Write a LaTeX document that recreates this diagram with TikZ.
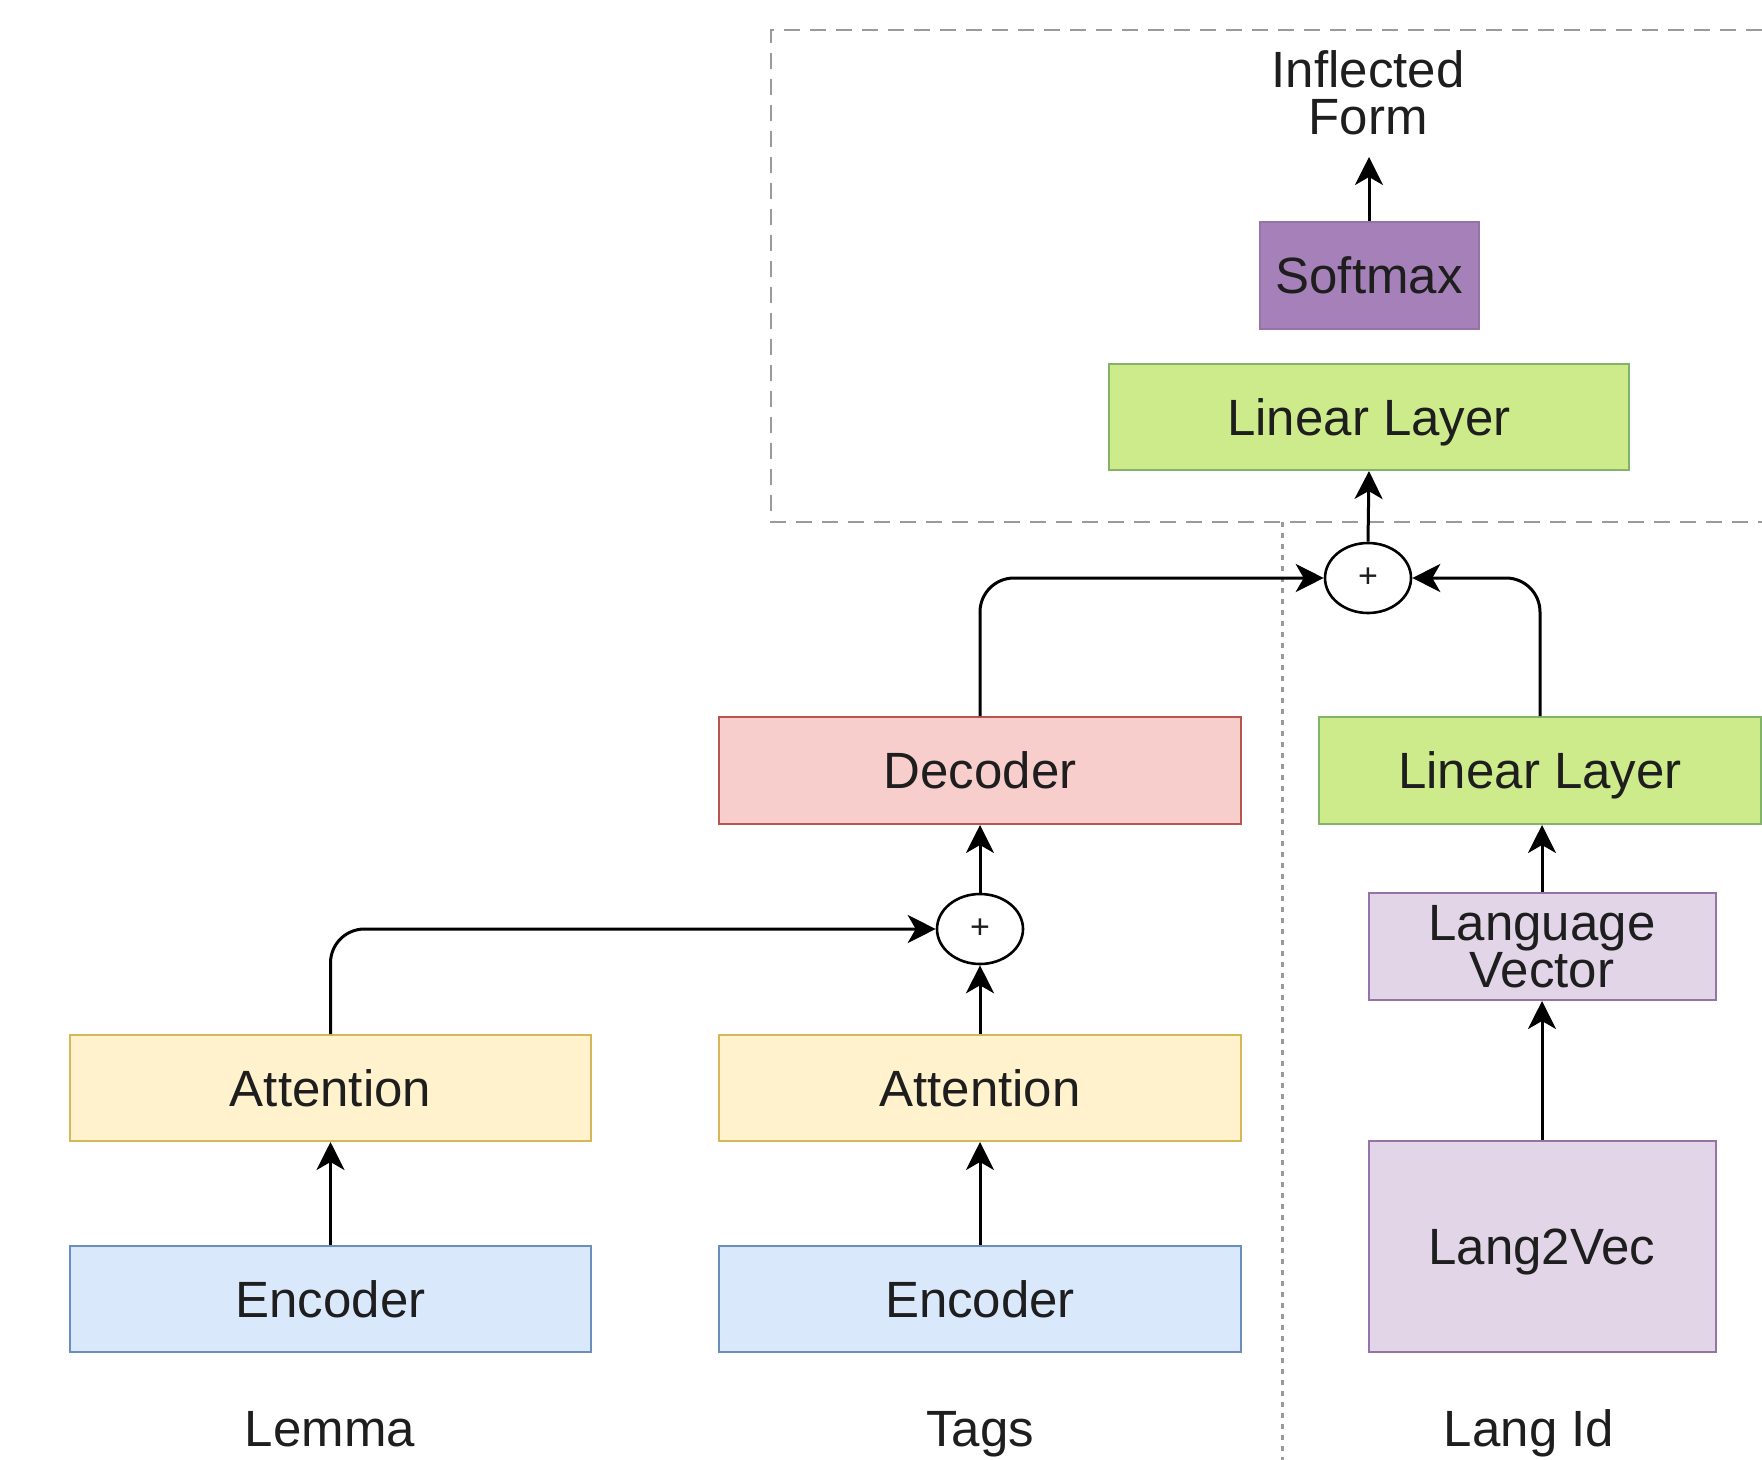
\documentclass[tikz,border=0pt]{standalone}
\usepackage{fontspec}
\setmainfont{Liberation Sans}
\usetikzlibrary{arrows.meta,shapes.geometric}

\definecolor{txt}{HTML}{1E1E1E}
\definecolor{softfill}{HTML}{A680B8}
\definecolor{softdraw}{HTML}{9673A6}
\definecolor{linfill}{HTML}{CDEB8B}
\definecolor{lindraw}{HTML}{82B366}
\definecolor{decfill}{HTML}{F8CECC}
\definecolor{decdraw}{HTML}{B85450}
\definecolor{langfill}{HTML}{E1D5E7}
\definecolor{langdraw}{HTML}{9673A6}
\definecolor{attfill}{HTML}{FFF2CC}
\definecolor{attdraw}{HTML}{D6B656}
\definecolor{encfill}{HTML}{DAE8FC}
\definecolor{encdraw}{HTML}{6C8EBF}
\definecolor{frame}{HTML}{9A9A9A}

\begin{document}
\begin{tikzpicture}[x=0.5pt,y=-0.5pt,
  lbl/.style={text=txt, font=\fontsize{25.5pt}{23.5pt}\selectfont, align=center},
  blk/.style={lbl, draw, line width=1pt, inner sep=0pt, minimum height=53.5pt},
  oneline/.style={text height=18.4pt, text depth=0pt},
  softbox/.style={blk, oneline, fill=softfill, draw=softdraw},
  linbox/.style={blk, oneline, fill=linfill, draw=lindraw},
  decbox/.style={blk, oneline, fill=decfill, draw=decdraw},
  langbox/.style={blk, fill=langfill, draw=langdraw},
  attbox/.style={blk, oneline, fill=attfill, draw=attdraw},
  encbox/.style={blk, oneline, fill=encfill, draw=encdraw},
  inlabel/.style={lbl, anchor=base},
  sumnode/.style={ellipse, draw, line width=1.3pt, fill=white, inner sep=0pt,
    minimum width=43pt, minimum height=35pt, text=txt, font=\fontsize{17pt}{17pt}\selectfont},
  conn/.style={line width=1.5pt, -{Stealth[length=14pt,width=14pt,inset=4pt]}},
  elbow/.style={conn, rounded corners=17pt}
]
\useasboundingbox (0,0) rectangle (1762,1460);

% region outlines
\draw[frame, line width=1pt, dash pattern=on 8pt off 5pt]
  (1762,30) -- (771,30) -- (771,522) -- (1762,522);
\draw[frame, line width=1.5pt, dash pattern=on 2.5pt off 3pt] (1282,522) -- (1282,1460);

% output stack
\node[lbl, anchor=south, inner xsep=0pt, inner ysep=11pt] (out) at (1368,157) {Inflected\\Form};
\node[softbox, minimum width=109.5pt] (soft) at (1369,275.5) {Softmax};
\node[linbox, minimum width=260pt, minimum height=53pt] (lin1) at (1369,417) {Linear Layer};
\node[sumnode] (plus1) at (1368,578) {+};

% decoder column
\node[decbox, minimum width=261pt] (dec) at (980,770.5) {Decoder};
\node[sumnode] (plus2) at (980,929) {+};
\node[attbox, minimum width=260.5pt, minimum height=53pt] (att1) at (330.5,1088) {Attention};
\node[attbox, minimum width=261pt, minimum height=53pt] (att2) at (980,1088) {Attention};
\node[encbox, minimum width=260.5pt, minimum height=53pt] (enc1) at (330.5,1299) {Encoder};
\node[encbox, minimum width=261pt, minimum height=53pt] (enc2) at (980,1299) {Encoder};

% language column
\node[linbox, minimum width=221pt] (lin2) at (1540,770.5) {Linear Layer};
\node[langbox, minimum width=173.5pt] (lvec) at (1542,946.5) {Language\\Vector};
\node[langbox, oneline, minimum width=173.5pt, minimum height=105.5pt] (l2v) at (1542,1246.5) {Lang2Vec};

% input labels
\node[inlabel] (lemma) at (330,1446) {Lemma};
\node[inlabel] (tags) at (980,1446) {Tags};
\node[inlabel] (langid) at (1529,1446) {Lang Id};

% connectors
\draw[conn] (enc1.north) -- (att1.south);
\draw[conn] (enc2.north) -- (att2.south);
\draw[conn] (att2.north) -- (plus2.south);
\draw[elbow] (att1.north) |- (plus2.west);
\draw[conn] (plus2.north) -- (dec.south);
\draw[elbow] (dec.north) |- (plus1.west);
\draw[conn] (l2v.north) -- (lvec.south);
\draw[conn] (lvec.north) -- (lvec.north |- lin2.south);
\draw[elbow] (lin2.north) |- (plus1.east);
\draw[conn] (plus1.north) -- (lin1.south);
\draw[conn] (soft.north) -- (soft.north |- out.south);
\end{tikzpicture}
\end{document}
